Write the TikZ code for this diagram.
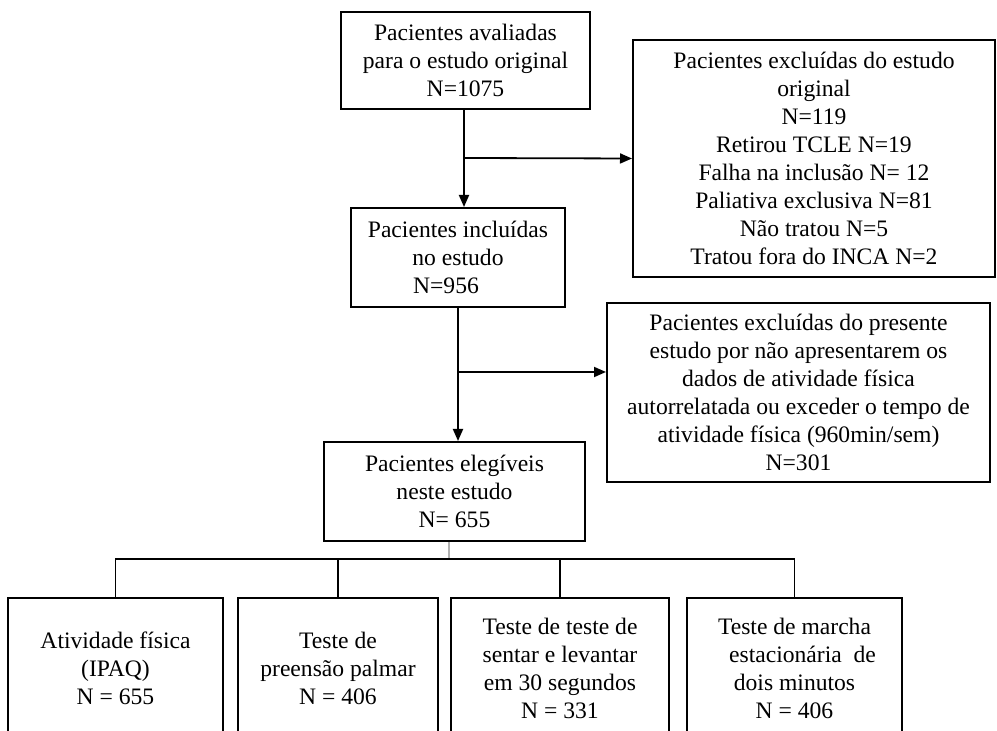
\documentclass[tikz,border=0pt]{standalone}
\usepackage{fontspec}
\setmainfont{Liberation Serif}
\usetikzlibrary{arrows.meta}
\begin{document}
\begin{tikzpicture}[x=0.5pt,y=-0.5pt,
  box/.style={draw,line width=1pt,align=center,inner sep=0pt,
    font=\fontsize{11.8}{14}\selectfont},
  link/.style={line width=0.9pt},
  arr/.style={link,-{Triangle[length=6pt,width=5pt]}}]
  \path[use as bounding box,clip] (0,0) rectangle (997,731);

  % Main flow
  \node[box,minimum width=124.5pt,minimum height=48.5pt] (aval) at (465.5,60.5)
    {Pacientes avaliadas\\ para o estudo original\\ N=1075};
  \node[box,minimum width=107pt,minimum height=49.5pt] (incl) at (458,257.5)
    {Pacientes incluídas\\ no estudo\\ N=956\hspace*{12pt}};
  \node[box,minimum width=130.5pt,minimum height=49.5pt] (eleg) at (454.5,491.5)
    {Pacientes elegíveis\\ neste estudo\\ N= 655};

  % Exclusions
  \node[box,minimum width=181pt,minimum height=118.5pt] (exc1) at (814,158.5)
    {Pacientes excluídas do estudo\\ original\\ N=119\\ Retirou TCLE N=19\\
     Falha na inclusão N= 12\\ Paliativa exclusiva N=81\\ Não tratou N=5\\
     Tratou fora do INCA N=2};
  \node[box,minimum width=191.5pt,minimum height=89.5pt] (exc2) at (798.5,392.5)
    {Pacientes excluídas do presente\\ estudo por não apresentarem os\\
     dados de atividade física\\ autorrelatada ou exceder o tempo de\\
     atividade física (960min/sem)\\ N=301};

  % Tests (cut at the bottom)
  \node[box,minimum width=107.5pt,minimum height=70pt] (ipaq) at (115.5,668)
    {Atividade física\\ (IPAQ)\\ N = 655};
  \node[box,minimum width=100pt,minimum height=70pt] (pree) at (338,668)
    {Teste de\\ preensão palmar\\ N = 406};
  \node[box,minimum width=109pt,minimum height=70pt] (sent) at (560,668)
    {Teste de teste de\\ sentar e levantar\\ em 30 segundos\\ N = 331};
  \node[box,minimum width=107.5pt,minimum height=70pt] (marc) at (794.5,668)
    {Teste de marcha\\ \hspace*{8pt}estacionária\ \ de\\ dois minutos\hspace*{18pt}\\ N = 406};

  % Arrows
  \coordinate (cut1) at (464,158);
  \draw[arr] (aval.south -| cut1) -- (incl.north -| cut1);
  \draw[arr] (cut1) -- (exc1.west);
  \coordinate (cut2) at (458,372);
  \draw[arr] (incl.south -| cut2) -- (eleg.north -| cut2);
  \draw[arr] (cut2) -- (cut2 -| exc2.west);

  % Split to the tests
  \coordinate (split) at (449,559);
  \draw[line width=1.4pt,gray!60] (eleg.south -| split) -- (split);
  \draw[link] (ipaq.north) -- (ipaq.north |- split) -- (marc.north |- split) -- (marc.north);
  \draw[link] (pree.north |- split) -- (pree.north);
  \draw[link] (sent.north |- split) -- (sent.north);
\end{tikzpicture}
\end{document}
